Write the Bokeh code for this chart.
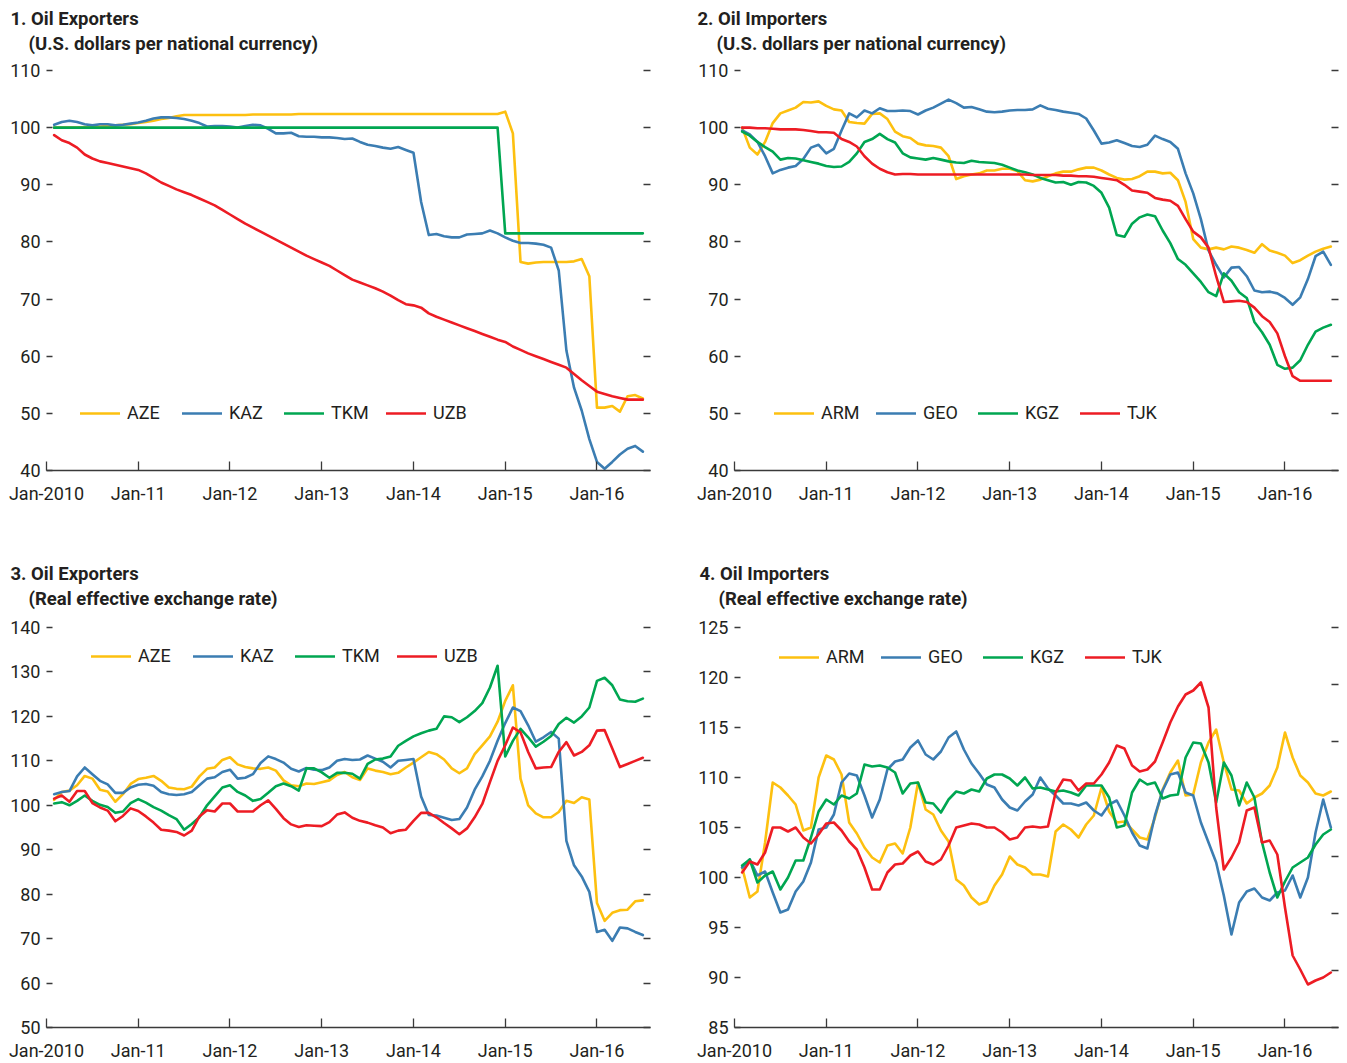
from bokeh.plotting import figure
from bokeh.models import Range1d, LinearAxis, FixedTicker, Legend, LegendItem, Title
from bokeh.layouts import column, row
from bokeh.embed import file_html
from bokeh.resources import INLINE

FONT = "Roboto"
TXT = "#231F20"
AXC = "#3a3a3a"
C_YEL = "#FDC010"
C_BLU = "#3B7DB2"
C_GRN = "#00A651"
C_RED = "#ED1C24"

# month index: 0 = Jan-2010; data run Feb-2010 (1) .. Jul-2016 (78)
months = list(range(1, 79))
x_ticks = [0, 12, 24, 36, 48, 60, 72]
x_labels = ["Jan-2010", "Jan-11", "Jan-12", "Jan-13", "Jan-14", "Jan-15", "Jan-16"]

# ---------- Panel 1: Oil exporters, USD per national currency ----------
p1_names = ["AZE", "KAZ", "TKM", "UZB"]
p1_aze = [100.0, 100.0, 100.0, 100.0, 100.1, 100.1, 100.2, 100.3, 100.4, 100.5,
          100.6, 100.8, 101.0, 101.2, 101.5, 101.7, 102.0, 102.2, 102.2, 102.2,
          102.2, 102.2, 102.2, 102.2, 102.2, 102.2, 102.3, 102.3, 102.3, 102.3,
          102.3, 102.3, 102.4, 102.4, 102.4, 102.4, 102.4, 102.4, 102.4, 102.4,
          102.4, 102.4, 102.4, 102.4, 102.4, 102.4, 102.4, 102.4, 102.4, 102.4,
          102.4, 102.4, 102.4, 102.4, 102.4, 102.4, 102.4, 102.4, 102.4, 102.8,
          99.0, 76.5, 76.2, 76.4, 76.5, 76.5, 76.5, 76.5, 76.6, 77.0,
          74.0, 51.0, 51.0, 51.3, 50.3, 53.0, 53.2, 52.6]
p1_kaz = [100.5, 101.0, 101.2, 101.0, 100.6, 100.4, 100.6, 100.6, 100.4, 100.5,
          100.7, 100.9, 101.2, 101.6, 101.8, 101.8, 101.7, 101.5, 101.2, 100.8,
          100.2, 100.3, 100.3, 100.2, 100.0, 100.3, 100.5, 100.4, 99.8, 99.0,
          99.0, 99.1, 98.5, 98.4, 98.4, 98.3, 98.3, 98.2, 98.0, 98.1,
          97.5, 97.0, 96.8, 96.5, 96.3, 96.6, 96.1, 95.6, 87.0, 81.2,
          81.4, 81.0, 80.8, 80.8, 81.3, 81.4, 81.5, 82.0, 81.5, 80.8,
          80.2, 79.8, 79.8, 79.7, 79.5, 79.0, 75.0, 61.0, 54.5, 50.5,
          45.5, 41.5, 40.3, 41.5, 42.8, 43.8, 44.3, 43.3]
p1_tkm = [100.0, 100.0, 100.0, 100.0, 100.0, 100.0, 100.0, 100.0, 100.0, 100.0,
          100.0, 100.0, 100.0, 100.0, 100.0, 100.0, 100.0, 100.0, 100.0, 100.0,
          100.0, 100.0, 100.0, 100.0, 100.0, 100.0, 100.0, 100.0, 100.0, 100.0,
          100.0, 100.0, 100.0, 100.0, 100.0, 100.0, 100.0, 100.0, 100.0, 100.0,
          100.0, 100.0, 100.0, 100.0, 100.0, 100.0, 100.0, 100.0, 100.0, 100.0,
          100.0, 100.0, 100.0, 100.0, 100.0, 100.0, 100.0, 100.0, 100.0, 81.5,
          81.5, 81.5, 81.5, 81.5, 81.5, 81.5, 81.5, 81.5, 81.5, 81.5,
          81.5, 81.5, 81.5, 81.5, 81.5, 81.5, 81.5, 81.5]
p1_uzb = [98.7, 97.8, 97.3, 96.5, 95.3, 94.6, 94.1, 93.8, 93.5, 93.2,
          92.9, 92.6, 92.0, 91.2, 90.4, 89.8, 89.2, 88.7, 88.2, 87.6,
          87.0, 86.4, 85.6, 84.8, 84.0, 83.2, 82.5, 81.8, 81.1, 80.4,
          79.7, 79.0, 78.3, 77.6, 77.0, 76.4, 75.8, 75.0, 74.2, 73.4,
          72.9, 72.4, 71.9, 71.3, 70.6, 69.8, 69.1, 68.9, 68.5, 67.5,
          66.9, 66.4, 65.9, 65.4, 64.9, 64.4, 63.9, 63.4, 62.9, 62.5,
          61.7, 61.1, 60.5, 60.0, 59.5, 59.0, 58.5, 58.0, 56.9, 55.8,
          54.8, 53.8, 53.4, 53.0, 52.7, 52.4, 52.4, 52.4]

# ---------- Panel 2: Oil importers, USD per national currency ----------
p2_names = ["ARM", "GEO", "KGZ", "TJK"]
p2_arm = [100.0, 96.5, 95.3, 97.5, 100.8, 102.5, 103.0, 103.5, 104.5, 104.4,
          104.6, 103.8, 103.2, 103.0, 101.0, 100.8, 100.7, 102.4, 102.5, 101.5,
          99.3, 98.5, 98.2, 97.2, 96.9, 96.8, 96.5, 95.0, 91.0, 91.5,
          91.8, 92.0, 92.5, 92.5, 92.8, 92.8, 92.4, 90.8, 90.6, 90.9,
          91.5, 92.0, 92.3, 92.3, 92.7, 93.0, 93.0, 92.5, 91.8, 91.2,
          90.9, 91.0, 91.5, 92.3, 92.3, 92.0, 92.1, 90.8, 87.0, 80.5,
          79.0, 78.7, 79.0, 78.7, 79.2, 79.0, 78.6, 78.1, 79.6, 78.5,
          78.1, 77.6, 76.3, 76.8, 77.6, 78.3, 78.8, 79.2]
p2_geo = [99.5, 98.8, 97.5, 95.0, 92.0, 92.6, 93.0, 93.3, 94.5, 96.5,
          97.0, 95.5, 96.3, 99.5, 102.5, 101.8, 103.0, 102.5, 103.4, 102.9,
          102.9, 103.0, 102.9, 102.3, 103.0, 103.5, 104.2, 104.9, 104.3, 103.5,
          103.6, 103.2, 102.8, 102.7, 102.8, 103.0, 103.1, 103.1, 103.2, 103.9,
          103.3, 103.1, 102.8, 102.6, 102.4, 101.6, 99.5, 97.2, 97.4, 97.8,
          97.3, 96.8, 96.6, 97.0, 98.6, 98.0, 97.5, 96.3, 92.0, 88.5,
          84.0, 78.5, 76.0, 73.8, 75.5, 75.6, 74.0, 71.5, 71.2, 71.3,
          71.0, 70.2, 69.0, 70.3, 73.5, 77.5, 78.3, 76.0]
p2_kgz = [99.3, 98.6, 97.5, 96.6, 95.8, 94.4, 94.7, 94.6, 94.3, 94.0,
          93.7, 93.3, 93.1, 93.2, 94.0, 95.5, 97.5, 98.0, 98.9, 98.0,
          97.4, 95.5, 94.8, 94.6, 94.4, 94.7, 94.4, 94.1, 93.9, 93.8,
          94.2, 94.0, 93.9, 93.8, 93.5, 93.0, 92.5, 92.2, 91.8, 91.2,
          90.8, 90.4, 90.5, 90.0, 90.5, 90.4, 89.8, 88.6, 86.0, 81.2,
          80.9, 83.2, 84.3, 84.8, 84.5, 82.0, 79.8, 77.0, 76.0, 74.5,
          73.0, 71.2, 70.5, 74.5, 73.2, 71.2, 70.2, 66.0, 64.2, 62.0,
          58.5, 57.8, 58.0, 59.3, 62.0, 64.3, 65.0, 65.5]
p2_tjk = [100.0, 100.0, 99.9, 99.9, 99.8, 99.7, 99.7, 99.7, 99.6, 99.4,
          99.2, 99.2, 99.1, 98.0, 97.5, 96.7, 95.0, 93.7, 92.8, 92.2,
          91.8, 91.9, 91.9, 91.8, 91.8, 91.8, 91.8, 91.8, 91.8, 91.8,
          91.8, 91.8, 91.8, 91.8, 91.8, 91.8, 91.8, 91.8, 91.7, 91.7,
          91.7, 91.7, 91.6, 91.6, 91.5, 91.5, 91.4, 91.2, 91.0, 90.8,
          90.0, 89.0, 88.8, 88.6, 87.7, 87.4, 87.2, 86.3, 84.0, 81.8,
          80.8, 79.0, 74.0, 69.5, 69.6, 69.7, 69.5, 68.5, 67.0, 66.0,
          64.0, 60.0, 56.5, 55.7, 55.7, 55.7, 55.7, 55.7]

# ---------- Panel 3: Oil exporters, REER ----------
p3_names = ["AZE", "KAZ", "TKM", "UZB"]
p3_aze = [101.2, 103.0, 103.3, 104.5, 106.6, 106.0, 103.5, 103.1, 100.8, 102.5,
          104.8, 105.9, 106.2, 106.6, 105.5, 104.0, 103.7, 103.6, 104.2, 106.5,
          108.2, 108.5, 110.2, 110.8, 109.2, 108.6, 108.3, 108.2, 108.5, 107.8,
          105.6, 104.5, 104.3, 104.9, 104.8, 105.2, 105.6, 106.8, 107.5, 106.3,
          105.7, 108.3, 107.8, 107.5, 107.0, 107.3, 108.5, 109.6, 110.8, 112.0,
          111.5, 110.3, 108.3, 107.2, 108.3, 111.5, 113.5, 115.5, 118.8, 123.5,
          127.0, 106.0, 100.0, 98.2, 97.3, 97.3, 98.5, 101.0, 100.5, 101.8,
          101.3, 78.0, 74.0, 75.8, 76.4, 76.5, 78.4, 78.6]
p3_kaz = [102.5, 103.0, 103.2, 106.5, 108.5, 107.0, 105.5, 104.7, 102.8, 102.8,
          104.0, 104.6, 104.8, 104.4, 103.0, 102.5, 102.3, 102.5, 103.0, 104.5,
          106.0, 106.3, 107.5, 108.0, 106.0, 106.2, 107.0, 109.5, 111.0, 110.4,
          109.6, 108.2, 107.6, 108.4, 108.0, 107.9, 108.5, 110.0, 110.4, 110.2,
          110.3, 111.2, 110.5, 109.8, 108.5, 110.0, 110.2, 110.4, 102.0, 97.8,
          97.7, 97.2, 96.7, 96.9, 99.5, 103.5, 106.5, 110.0, 114.5, 118.5,
          122.0, 121.2, 118.0, 114.3, 115.3, 116.5, 115.0, 92.0, 86.5, 84.0,
          80.5, 71.5, 72.0, 69.5, 72.5, 72.3, 71.5, 70.8]
p3_tkm = [100.4, 100.7, 100.0, 101.0, 102.2, 101.0, 100.1, 99.6, 98.3, 98.6,
          100.5, 101.4, 100.6, 99.6, 98.8, 97.8, 96.9, 94.5, 95.8, 97.3,
          100.0, 102.0, 104.0, 104.5, 103.0, 102.2, 101.0, 101.4, 102.8, 104.3,
          104.9, 104.3, 103.3, 108.3, 108.3, 107.4, 106.2, 107.3, 107.3, 107.1,
          106.0, 109.3, 110.3, 110.5, 111.0, 113.4, 114.5, 115.5, 116.2, 116.8,
          117.2, 120.0, 119.8, 118.7, 119.8, 121.2, 123.0, 126.5, 131.4, 111.0,
          114.5, 117.2, 115.3, 113.2, 114.3, 115.6, 118.3, 119.7, 118.6, 120.0,
          122.0, 128.0, 128.7, 127.0, 123.8, 123.4, 123.3, 124.0]
p3_uzb = [101.5, 102.2, 100.8, 103.2, 103.2, 100.5, 99.5, 98.8, 96.4, 97.6,
          99.3, 98.7, 97.5, 96.1, 94.5, 94.3, 94.0, 93.2, 94.3, 97.5,
          98.9, 98.6, 100.4, 100.4, 98.6, 98.6, 98.6, 100.0, 101.1, 99.2,
          97.1, 95.7, 95.1, 95.5, 95.4, 95.3, 96.2, 97.9, 98.4, 97.2,
          96.5, 96.1, 95.5, 95.0, 93.7, 94.3, 94.5, 96.5, 98.3, 98.3,
          97.3, 96.0, 94.8, 93.5, 94.8, 97.3, 100.3, 105.2, 110.0, 113.5,
          117.5, 116.4, 112.0, 108.3, 108.5, 108.6, 112.0, 114.2, 111.2, 112.0,
          113.5, 116.8, 116.9, 112.8, 108.6, 109.3, 110.0, 110.7]

# ---------- Panel 4: Oil importers, REER ----------
p4_names = ["ARM", "GEO", "KGZ", "TJK"]
p4_arm = [101.0, 98.0, 98.6, 103.5, 109.5, 109.0, 108.2, 107.3, 104.7, 105.0,
          110.0, 112.2, 111.8, 110.3, 105.5, 104.4, 103.0, 102.0, 101.5, 103.2,
          103.4, 102.4, 105.0, 109.5, 106.8, 106.3, 104.7, 103.6, 99.8, 99.2,
          98.0, 97.3, 97.6, 99.2, 100.3, 102.1, 101.3, 101.0, 100.3, 100.3,
          100.1, 104.6, 105.3, 104.8, 104.0, 105.3, 106.2, 109.0, 106.6, 105.5,
          105.6, 104.8, 104.0, 103.8, 106.0, 108.8, 110.5, 111.7, 108.2, 108.3,
          111.5, 113.5, 114.8, 111.5, 108.8, 108.7, 107.4, 108.0, 108.4, 109.2,
          111.0, 114.5, 112.0, 110.2, 109.5, 108.4, 108.2, 108.6]
p4_geo = [101.0, 101.8, 100.2, 100.6, 98.5, 96.5, 96.8, 98.6, 99.6, 101.5,
          104.8, 105.0, 106.3, 109.5, 110.4, 110.2, 108.2, 106.0, 107.8, 110.8,
          111.6, 111.8, 113.0, 113.7, 112.3, 111.8, 112.6, 114.0, 114.6, 112.8,
          111.4, 110.4, 109.3, 109.0, 107.8, 107.0, 106.7, 107.6, 108.3, 110.0,
          108.9, 108.2, 107.4, 107.4, 107.2, 107.5, 106.7, 106.2, 107.3, 107.7,
          106.2, 104.5, 103.2, 102.9, 106.2, 108.7, 110.3, 110.5, 108.5, 108.2,
          105.5, 103.5, 101.5, 98.2, 94.3, 97.5, 98.6, 98.9, 98.0, 97.7,
          98.5, 98.7, 100.2, 98.0, 100.0, 104.5, 107.8, 105.0]
p4_kgz = [101.2, 101.8, 99.5, 100.2, 100.6, 98.8, 100.0, 101.7, 101.7, 104.0,
          106.6, 107.8, 107.3, 108.2, 107.9, 108.4, 111.3, 111.1, 111.2, 111.0,
          110.5, 108.4, 109.4, 109.5, 107.5, 107.4, 106.5, 107.8, 108.6, 108.4,
          108.8, 108.6, 109.9, 110.3, 110.3, 109.9, 109.2, 110.0, 108.9, 109.0,
          108.8, 108.6, 108.7, 108.5, 108.2, 109.2, 109.2, 109.2, 108.0, 105.0,
          105.2, 108.5, 109.8, 109.3, 109.5, 107.9, 108.2, 108.3, 112.0, 113.5,
          113.4, 111.5, 107.5, 111.5, 110.2, 107.2, 109.5, 108.0, 103.5, 100.5,
          98.0, 99.6, 101.0, 101.5, 102.0, 103.3, 104.3, 104.8]
p4_tjk = [100.5, 101.6, 101.3, 102.5, 105.0, 105.0, 104.6, 105.0, 104.0, 103.4,
          104.3, 105.4, 105.5, 104.7, 103.6, 102.8, 101.0, 98.8, 98.8, 100.5,
          101.3, 101.4, 102.2, 102.6, 101.6, 101.3, 101.8, 103.2, 105.0, 105.2,
          105.4, 105.3, 105.0, 105.0, 104.5, 103.8, 104.0, 105.0, 105.1, 105.0,
          105.1, 108.5, 109.8, 109.7, 108.7, 109.4, 109.4, 110.3, 111.5, 113.2,
          112.9, 111.2, 110.6, 110.8, 111.6, 113.5, 115.5, 117.1, 118.3, 118.7,
          119.5, 117.0, 107.0, 100.8, 102.0, 103.5, 106.7, 107.0, 103.5, 103.7,
          102.3, 97.0, 92.2, 90.8, 89.3, 89.7, 90.0, 90.5]

COLORS = [C_YEL, C_BLU, C_GRN, C_RED]


def make_panel(t1, t2, names, series, y0, y1, ystep, legend_xy,
               mb_left, mb_right, mb_top, mb_bottom, t1_dx, t2_dx,
               gap, right_count=None):
    p = figure(frame_width=604, frame_height=400,
               x_range=Range1d(0, 79), y_range=Range1d(y0, y1),
               output_backend="svg", toolbar_location=None,
               min_border_left=mb_left, min_border_right=mb_right,
               min_border_top=mb_top, min_border_bottom=mb_bottom,
               background_fill_color="white", border_fill_color="white")
    p.outline_line_color = None
    p.xgrid.visible = False
    p.ygrid.visible = False

    items = []
    for name, vals, col in zip(names, series, COLORS):
        if len(vals) != len(months):
            raise ValueError(f"{t1} {name}: {len(vals)} values")
        r = p.line(months, vals, line_color=col, line_width=2.6,
                   line_join="round", line_cap="round")
        items.append(LegendItem(label=name, renderers=[r]))

    xa = p.xaxis[0]
    xa.ticker = FixedTicker(ticks=x_ticks)
    xa.major_label_overrides = {t: l for t, l in zip(x_ticks, x_labels)}
    xa.axis_line_color = AXC
    xa.axis_line_width = 1.3
    xa.major_tick_line_color = AXC
    xa.major_tick_line_width = 1.3
    xa.major_tick_in = 9
    xa.major_tick_out = 0
    xa.minor_tick_line_color = None
    xa.major_label_standoff = 12
    xa.major_label_text_font = FONT
    xa.major_label_text_font_size = "18px"
    xa.major_label_text_color = TXT

    ya = p.yaxis[0]
    yt = list(range(y0, y1 + 1, ystep))
    ya.ticker = FixedTicker(ticks=yt)
    ya.axis_line_color = None
    ya.major_tick_line_color = AXC
    ya.major_tick_line_width = 1.3
    ya.major_tick_in = 6
    ya.major_tick_out = 0
    ya.minor_tick_line_color = None
    ya.major_label_standoff = 6
    ya.major_label_text_font = FONT
    ya.major_label_text_font_size = "18px"
    ya.major_label_text_color = TXT

    if right_count is None:
        rt = yt
        ra = LinearAxis(ticker=FixedTicker(ticks=rt))
    else:
        rt = list(range(0, right_count + 1))
        p.extra_y_ranges = {"r": Range1d(0, right_count)}
        ra = LinearAxis(y_range_name="r", ticker=FixedTicker(ticks=rt))
    ra.major_label_overrides = {t: "" for t in rt}
    ra.axis_line_color = None
    ra.major_tick_line_color = AXC
    ra.major_tick_line_width = 1.3
    ra.major_tick_in = 7
    ra.major_tick_out = 0
    ra.minor_tick_line_color = None
    ra.major_label_standoff = 0
    p.add_layout(ra, "right")

    # blank axis above the frame (white tick, no label): spacer below the titles
    sp = LinearAxis(ticker=FixedTicker(ticks=[40]))
    sp.axis_line_color = None
    sp.major_tick_line_color = "white"
    sp.major_tick_line_alpha = 1.0
    sp.minor_tick_line_color = None
    sp.major_tick_in = 0
    sp.major_tick_out = gap
    sp.minor_tick_in = 0
    sp.minor_tick_out = 0
    sp.major_label_overrides = {40: ""}
    sp.major_label_standoff = 0
    sp.major_label_text_font_size = "1px"
    p.add_layout(sp, "above")

    leg = Legend(items=items, orientation="horizontal", location=legend_xy,
                 padding=0, margin=0, spacing=4, glyph_width=40, glyph_height=20,
                 label_width=51, label_standoff=7,
                 label_text_font=FONT, label_text_font_size="18px",
                 label_text_color=TXT, border_line_color=None,
                 background_fill_alpha=0)
    p.add_layout(leg, "center")

    p.add_layout(Title(text=t2, align="left", offset=t2_dx, standoff=0,
                       text_font=FONT, text_font_style="bold",
                       text_font_size="18.5px", text_color=TXT), "above")
    p.add_layout(Title(text=t1, align="left", offset=t1_dx, standoff=2,
                       text_font=FONT, text_font_style="bold",
                       text_font_size="18.5px", text_color=TXT), "above")
    return p


p1 = make_panel("1. Oil Exporters", "(U.S. dollars per national currency)",
                p1_names, [p1_aze, p1_kaz, p1_tkm, p1_uzb], 40, 110, 10, (34, 47),
                46, 38, 70, 87, -36, -18, 16)
p2 = make_panel("2. Oil Importers", "(U.S. dollars per national currency)",
                p2_names, [p2_arm, p2_geo, p2_kgz, p2_tjk], 40, 110, 10, (40, 47),
                46, 2, 70, 87, -37, -18, 16)
p3 = make_panel("3. Oil Exporters", "(Real effective exchange rate)",
                p3_names, [p3_aze, p3_kaz, p3_tkm, p3_uzb], 50, 140, 10, (45, 361),
                46, 38, 70, 34, -36, -18, 18)
p4 = make_panel("4. Oil Importers", "(Real effective exchange rate)",
                p4_names, [p4_arm, p4_geo, p4_kgz, p4_tjk], 85, 125, 5, (45, 360),
                46, 2, 70, 34, -35, -16, 18, right_count=7)

layout = column(row(p1, p2), row(p3, p4))
open("out.html", "w").write(file_html(layout, INLINE))
